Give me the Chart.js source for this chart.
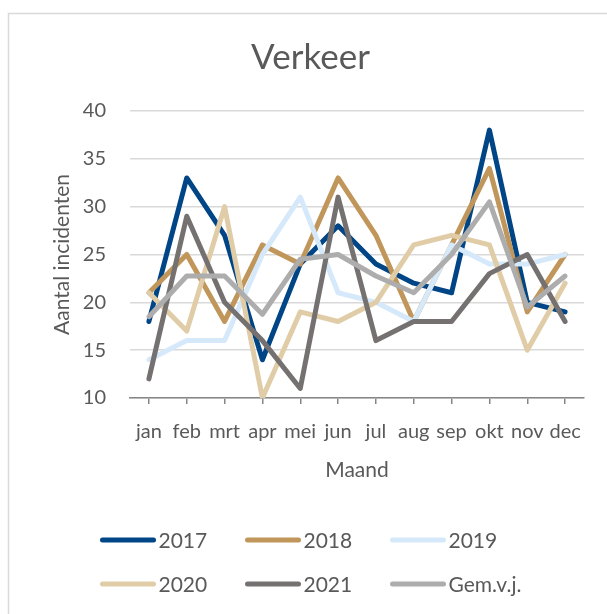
<!DOCTYPE html>
<html>
<head>
<meta charset="utf-8">
<script src="https://cdn.jsdelivr.net/npm/chart.js@4/dist/chart.umd.min.js"></script>
<style>
  html, body { margin: 0; padding: 0; background: #ffffff; }
  #wrap { width: 607px; height: 614px; position: relative; }
</style>
</head>
<body>
<div id="wrap"><canvas id="c" width="607" height="614"></canvas></div>
<script>
const months = ['jan','feb','mrt','apr','mei','jun','jul','aug','sep','okt','nov','dec'];
const s2017 = [18, 33, 27, 14, 24, 28, 24, 22, 21, 38, 20, 19];
const s2018 = [21, 25, 18, 26, 24, 33, 27, 18, 26, 34, 19, 25];
const s2019 = [14, 16, 16, 25, 31, 21, 20, 18, 26, 24, 24, 25];
const s2020 = [21, 17, 30, 10, 19, 18, 20, 26, 27, 26, 15, 22];
const s2021 = [12, 29, 20, 16, 11, 31, 16, 18, 18, 23, 25, 18];
const sGem  = [18.5, 22.75, 22.75, 18.75, 24.5, 25, 22.75, 21, 25, 30.5, 19.5, 22.75];
const yTicks = [10, 15, 20, 25, 30, 35, 40];
const chartTitle = 'Verkeer';

const FONT = 'Lato, "Open Sans", sans-serif';
const TXT = '#595959';

const series = [
  { label: '2017', data: s2017, color: '#004586' },
  { label: '2018', data: s2018, color: '#C0965A' },
  { label: '2019', data: s2019, color: '#D5E9FB' },
  { label: '2020', data: s2020, color: '#E0CDA7' },
  { label: '2021', data: s2021, color: '#767171' },
  { label: 'Gem.v.j.', data: sGem, color: '#ADADAD' }
];

const framePlugin = {
  id: 'frame',
  beforeDraw(chart) {
    const ctx = chart.ctx;
    ctx.save();
    ctx.fillStyle = '#ffffff';
    ctx.fillRect(0, 0, chart.width, chart.height);
    ctx.strokeStyle = '#d9d9d9';
    ctx.lineWidth = 1.5;
    ctx.strokeRect(8.5, 13.5, 700, 700);
    ctx.fillStyle = TXT;
    ctx.font = '35px ' + FONT;
    ctx.textAlign = 'center';
    ctx.textBaseline = 'middle';
    ctx.fillText(chartTitle, 310.5, 58);
    ctx.restore();
  }
};

const legendPlugin = {
  id: 'gridLegend',
  afterDraw(chart) {
    const ctx = chart.ctx;
    chart.data.datasets.forEach((ds, i) => {
      const col = i % 3, row = Math.floor(i / 3);
      const x = 102.5 + col * 145;
      const y = 540 + row * 44;
      ctx.save();
      ctx.strokeStyle = ds.borderColor;
      ctx.lineWidth = 5;
      ctx.lineCap = 'round';
      ctx.beginPath();
      ctx.moveTo(x, y);
      ctx.lineTo(x + 51, y);
      ctx.stroke();
      ctx.fillStyle = TXT;
      ctx.font = '21px ' + FONT;
      ctx.textBaseline = 'middle';
      ctx.textAlign = 'left';
      ctx.fillText(ds.label, x + 56, y + 1);
      ctx.restore();
    });
  }
};

new Chart(document.getElementById('c'), {
  type: 'line',
  data: {
    labels: months,
    datasets: series.map((s, i) => ({
      label: s.label,
      data: s.data,
      borderColor: s.color,
      backgroundColor: s.color,
      borderWidth: 5,
      pointRadius: 0,
      pointHoverRadius: 0,
      tension: 0,
      fill: false,
      borderJoinStyle: 'round',
      borderCapStyle: 'round',
      order: series.length - i
    }))
  },
  options: {
    responsive: false,
    animation: false,
    events: [],
    layout: { padding: { left: 0, right: 23, top: 111, bottom: 116 } },
    plugins: {
      legend: { display: false },
      tooltip: { enabled: false },
      title: { display: false }
    },
    scales: {
      x: {
        type: 'category',
        offset: true,
        grid: {
          display: true,
          drawOnChartArea: false,
          drawTicks: true,
          tickLength: 6,
          offset: false,
          color: '#868686',
          lineWidth: 1.5
        },
        border: { display: true, color: '#868686', width: 1.5 },
        ticks: {
          autoSkip: false,
          maxRotation: 0,
          minRotation: 0,
          padding: 16,
          color: TXT,
          font: { family: FONT, size: 20 }
        },
        title: {
          display: true,
          text: 'Maand',
          color: TXT,
          font: { family: FONT, size: 21, lineHeight: 1.2 },
          padding: { top: 0, bottom: 15 }
        },
        afterFit(scale) { scale.height = 100; }
      },
      y: {
        min: 10,
        max: 40,
        afterBuildTicks(scale) { scale.ticks = yTicks.map(v => ({ value: v })); },
        grid: {
          color: '#d9d9d9',
          lineWidth: 1.5,
          drawTicks: false
        },
        border: { display: false },
        ticks: {
          padding: 24,
          color: TXT,
          font: { family: FONT, size: 20 }
        },
        title: {
          display: true,
          text: 'Aantal incidenten',
          color: TXT,
          font: { family: FONT, size: 21, lineHeight: 1.2 },
          padding: { top: 50, bottom: 0 }
        },
        afterFit(scale) { scale.width = 130; }
      }
    }
  },
  plugins: [framePlugin, legendPlugin]
});
</script>
</body>
</html>
